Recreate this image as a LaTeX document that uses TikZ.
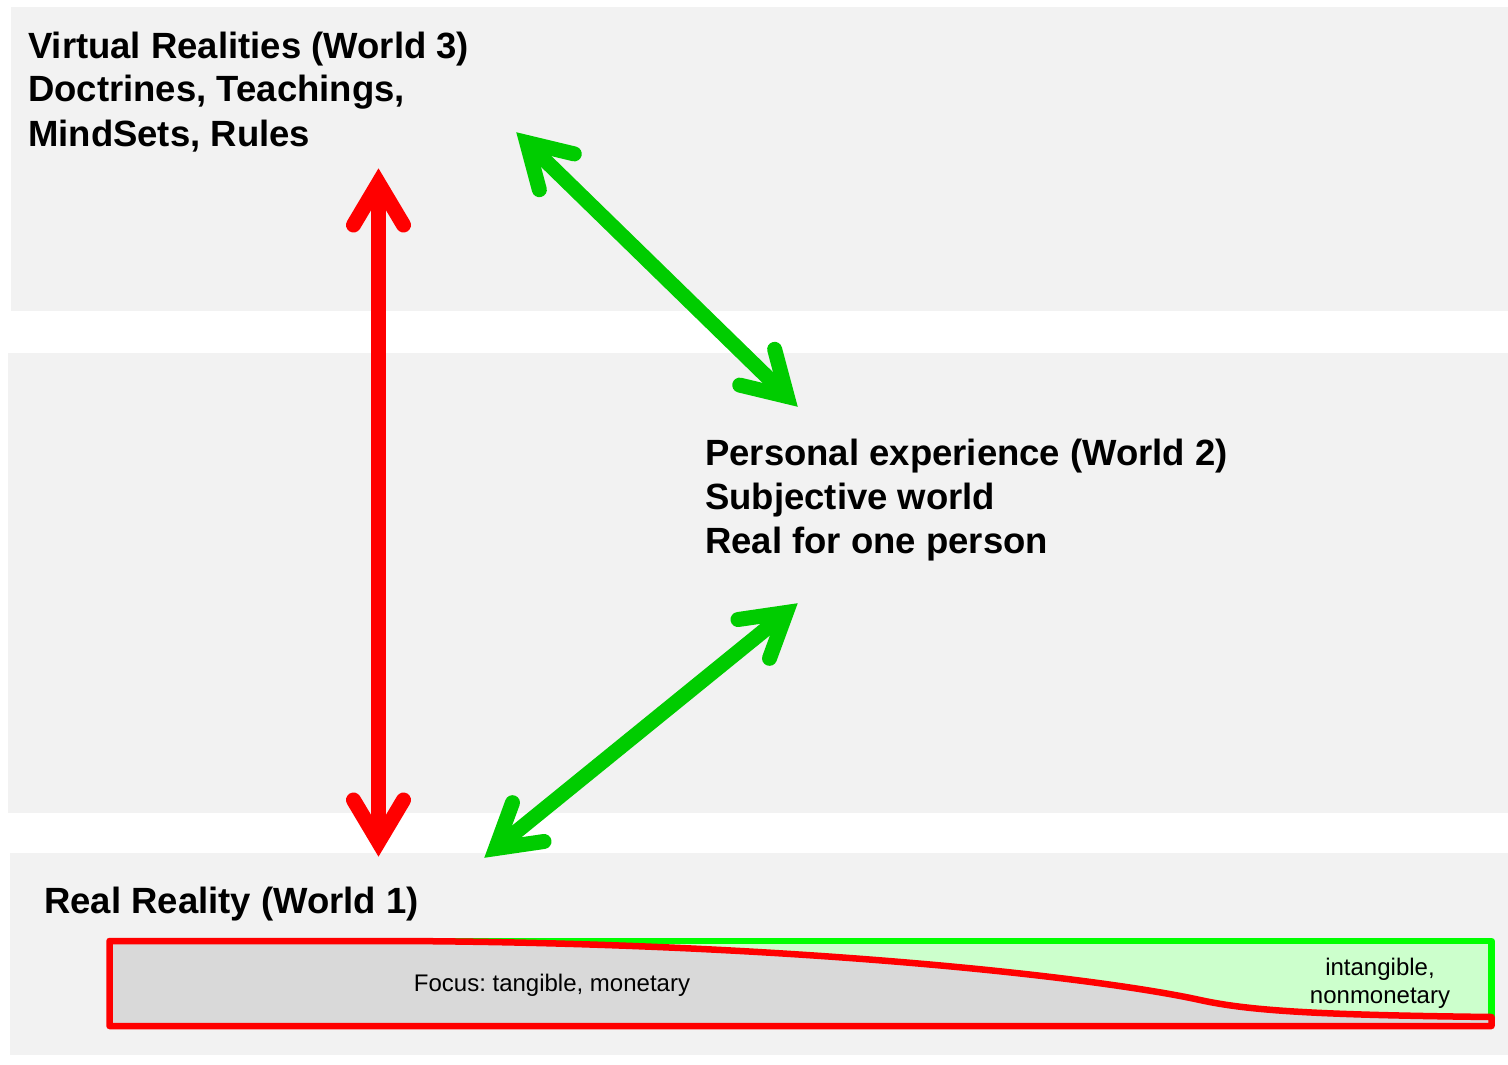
\documentclass[tikz,border=0pt]{standalone}
\usepackage{fontspec}
\setmainfont{Liberation Sans}
\usetikzlibrary{calc}
\frenchspacing
\definecolor{panel}{HTML}{F2F2F2}
\definecolor{arrred}{HTML}{FF0000}
\definecolor{arrgreen}{HTML}{00CC00}
\definecolor{linegreen}{HTML}{00FF00}
\definecolor{lightgreen}{HTML}{CCFFCC}
\definecolor{bargray}{HTML}{D9D9D9}
\tikzset{
  panelbox/.style={fill=panel, draw=none},
  bigtext/.style={font=\fontsize{36.5}{44}\selectfont\bfseries, align=left, inner sep=0pt, anchor=base west},
  smalltext/.style={font=\fontsize{24}{28}\selectfont, align=center, inner sep=0pt, anchor=base},
  shaftline/.style={line width=15pt, line cap=butt},
  headline/.style={line width=15pt, line cap=round, line join=miter},
  barline/.style={line width=6.5pt, line join=round}
}
% #1 colour, #2 other end, #3 tip
\newcommand\myhead[3]{%
  \coordinate (ah-apex) at ($(#3)!15pt!(#2)$);
  \coordinate (ah-back) at ($(#3)!57pt!(#2)$);
  \draw[headline, #1] ($(ah-back)!25pt!90:(#2)$) -- (ah-apex) -- ($(ah-back)!25pt!-90:(#2)$);
}
\newcommand\mydblarrow[3]{%
  \draw[shaftline, #1] ($(#2)!15pt!(#3)$) -- ($(#3)!15pt!(#2)$);
  \myhead{#1}{#2}{#3}
  \myhead{#1}{#3}{#2}
}
\begin{document}
\begin{tikzpicture}[x=1pt, y=-1pt]
\useasboundingbox (0,0) rectangle (1508,1065);
\fill[white] (0,0) rectangle (1508,1065);
% panels
\path[panelbox] (11,7) rectangle (1508,311);
\path[panelbox] (8,353) rectangle (1508,813);
\path[panelbox] (10,853) rectangle (1508,1055);
% texts (anchor is baseline of the last line)
\node[bigtext] (w3) at (28,146) {Virtual Realities (World 3)\\Doctrines, Teachings,\\MindSets, Rules};
\node[bigtext] (w2) at (705,553) {Personal experience (World 2)\\Subjective world\\Real for one person};
\node[bigtext] (w1) at (44,913) {Real Reality (World 1)};
% arrow end points
\coordinate (r1) at (378.5,168);
\coordinate (r2) at (378.5,857);
\coordinate (g1a) at (516,132);
\coordinate (g1b) at (798,407);
\coordinate (g2a) at (798,603);
\coordinate (g2b) at (484,858);
\mydblarrow{arrred}{r1}{r2}
\mydblarrow{arrgreen}{g1a}{g1b}
\mydblarrow{arrgreen}{g2a}{g2b}
% bottom bar
\coordinate (bl) at (109.5,1026);
\coordinate (tl) at (109.5,941);
\coordinate (tr) at (1491.5,941);
\coordinate (br) at (1491.5,1026);
\fill[lightgreen] (tl) rectangle (br);
\fill[bargray] (tl) -- (400,941) .. controls (800,943) and (1100,978) .. (1200,1000) .. controls (1250,1011) and (1320,1015) .. (1491.5,1017) -- (br) -- (bl) -- cycle;
\draw[barline, linegreen] (tl) -- (tr) -- (1491.5,1018);
\draw[barline, arrred] (tl) -- (400,941) .. controls (800,943) and (1100,978) .. (1200,1000) .. controls (1250,1011) and (1320,1015) .. (1491.5,1017) -- (br) -- (bl) -- cycle;
\node[smalltext] (focus) at (552,991) {Focus: tangible, monetary};
\node[smalltext] (intang) at (1380,1003) {intangible,\\nonmonetary};
\end{tikzpicture}
\end{document}
